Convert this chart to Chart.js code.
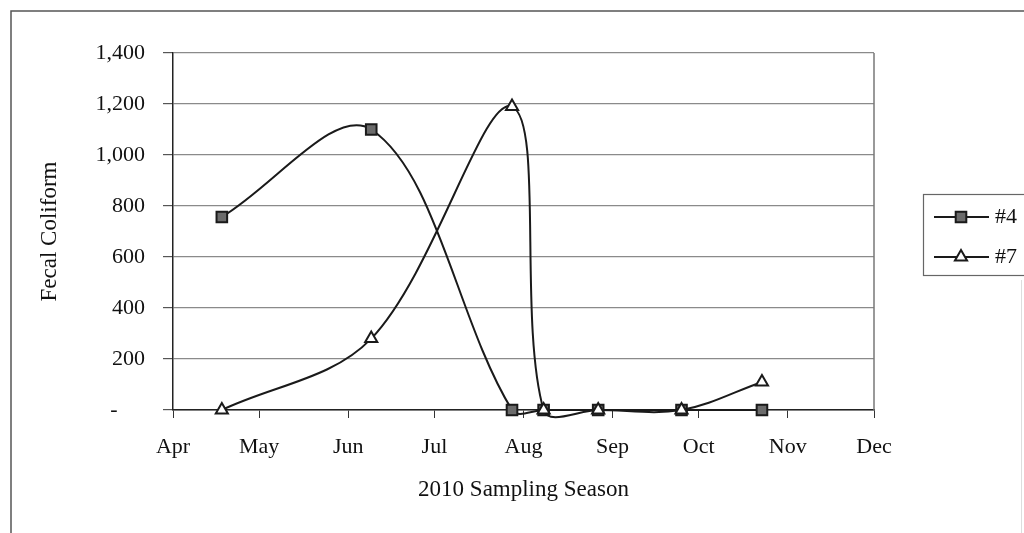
<!DOCTYPE html>
<html>
<head>
<meta charset="utf-8">
<script src="https://cdn.jsdelivr.net/npm/chart.js@4.4.0/dist/chart.umd.min.js"></script>
<style>
  html, body { margin: 0; background: #fff; }
  #wrap { width: 1024px; height: 533px; }
</style>
</head>
<body>
<div id="wrap"><canvas id="chart" width="1024" height="533"></canvas></div>
<script>
// sampling dates and fecal coliform counts
const sampleDates = ['2010-04-18', '2010-06-09', '2010-07-28', '2010-08-08', '2010-08-27', '2010-09-25', '2010-10-23'];
const site4 = [757, 1100, 0, 0, 0, 0, 0];
const site7 = [0, 280, 1190, 0, 0, 0, 110];
const monthLabels = ['Apr', 'May', 'Jun', 'Jul', 'Aug', 'Sep', 'Oct', 'Nov', 'Dec'];
const monthStarts = ['2010-04-01', '2010-05-01', '2010-06-01', '2010-07-01', '2010-08-01', '2010-09-01', '2010-10-01', '2010-11-01', '2010-12-01'];
const yTicks = [0, 200, 400, 600, 800, 1000, 1200, 1400];

const FONT = '"Liberation Serif", "Times New Roman", serif';
const START = Date.parse(monthStarts[0]);
const day = s => (Date.parse(s) - START) / 86400000;
const monthDays = monthStarts.map(day);
const pts = vals => sampleDates.map((d, i) => ({ x: day(d), y: vals[i] }));
const yLabel = v => v === 0 ? '-\u2007\u2007 ' : v.toLocaleString('en-US');

const series = [
  { label: '#4', data: site4, style: 'rect', radius: 7.5, fill: '#6b6b6b', order: 1 },
  { label: '#7', data: site7, style: 'triangle', radius: 7, fill: '#ffffff', order: 0 },
];

// outer frame, right edge of plot area, and Excel-style legend box
const decor = {
  id: 'decor',
  beforeDatasetsDraw(chart) {
    const { ctx, chartArea: a } = chart;
    ctx.save();
    ctx.strokeStyle = '#777'; ctx.lineWidth = 1.5;
    ctx.beginPath(); ctx.moveTo(a.right, a.top); ctx.lineTo(a.right, a.bottom); ctx.stroke();
    ctx.restore();
  },
  afterDraw(chart) {
    const ctx = chart.ctx;
    ctx.save();
    ctx.strokeStyle = '#555'; ctx.lineWidth = 1.5;
    ctx.beginPath(); ctx.moveTo(11, 533); ctx.lineTo(11, 11); ctx.lineTo(1024, 11); ctx.stroke();
    ctx.strokeStyle = '#ddd'; ctx.lineWidth = 1;
    ctx.beginPath(); ctx.moveTo(1021.5, 280); ctx.lineTo(1021.5, 533); ctx.stroke();

    ctx.strokeStyle = '#666'; ctx.lineWidth = 1.2;
    ctx.strokeRect(923.5, 194.5, 110, 81);
    series.forEach((s, i) => {
      const y = 217 + i * 40;
      ctx.strokeStyle = '#1a1a1a'; ctx.lineWidth = 2;
      ctx.beginPath(); ctx.moveTo(934, y); ctx.lineTo(989, y); ctx.stroke();
      ctx.fillStyle = s.fill; ctx.strokeStyle = '#1a1a1a';
      Chart.helpers.drawPoint(ctx, { pointStyle: s.style, radius: s.radius, borderWidth: 2, rotation: 0 }, 961, y);
      ctx.fillStyle = '#111'; ctx.font = '22px ' + FONT;
      ctx.textAlign = 'left'; ctx.textBaseline = 'middle';
      ctx.fillText(s.label, 995, y);
    });
    ctx.restore();
  },
};

new Chart(document.getElementById('chart'), {
  type: 'line',
  data: {
    datasets: series.map(s => ({
      label: s.label,
      data: pts(s.data),
      order: s.order,
      borderColor: '#1a1a1a',
      borderWidth: 2,
      tension: 0.35,
      clip: false,
      pointStyle: s.style,
      pointRadius: s.radius,
      pointBackgroundColor: s.fill,
      pointBorderColor: '#1a1a1a',
      pointBorderWidth: 2,
    })),
  },
  options: {
    responsive: false,
    animation: false,
    devicePixelRatio: 1,
    layout: { padding: { top: 53, right: 150, left: 0, bottom: 0 } },
    elements: { line: { capBezierPoints: false } },
    plugins: { legend: { display: false }, tooltip: { enabled: false } },
    scales: {
      x: {
        type: 'linear',
        min: monthDays[0], max: monthDays[monthDays.length - 1],
        afterBuildTicks: s => { s.ticks = monthDays.map(v => ({ value: v })); },
        afterFit: s => { s.height = 123; },
        grid: { drawOnChartArea: false, drawTicks: true, tickLength: 8, tickColor: '#333' },
        border: { color: '#222', width: 1.5 },
        ticks: {
          autoSkip: false, maxRotation: 0, padding: 16, color: '#111',
          font: { family: FONT, size: 22 },
          callback: v => monthLabels[monthDays.indexOf(v)] ?? '',
        },
        title: {
          display: true, text: '2010 Sampling Season', color: '#111',
          font: { family: FONT, size: 23 }, padding: { top: 0, bottom: 29 },
        },
      },
      y: {
        min: 0, max: 1400,
        afterBuildTicks: s => { s.ticks = yTicks.map(v => ({ value: v })); },
        afterFit: s => { s.width = 173; },
        grid: { color: '#8a8a8a', lineWidth: 1.2, tickLength: 10, tickColor: '#555' },
        border: { color: '#222', width: 1.5 },
        ticks: { padding: 18, color: '#111', font: { family: FONT, size: 22 }, callback: yLabel },
        title: {
          display: true, text: 'Fecal Coliform', color: '#111',
          font: { family: FONT, size: 23 }, padding: { top: 36, bottom: 0 },
        },
      },
    },
  },
  plugins: [decor],
});
</script>
</body>
</html>
